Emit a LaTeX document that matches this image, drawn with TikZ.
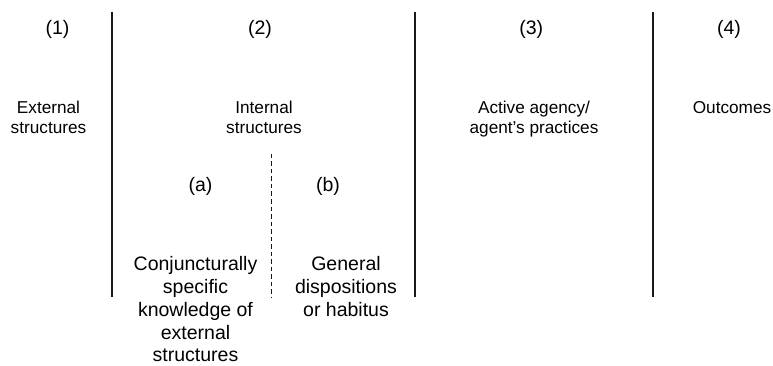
\documentclass[tikz,border=0pt]{standalone}
\usepackage{fontspec}
\setmainfont{Liberation Sans}
\usetikzlibrary{positioning,calc}
\tikzstyle{heading} = [anchor=base, inner sep=0pt, align=center,
    font=\fontsize{17.2}{19.5}\selectfont]
\tikzstyle{subheading} = [anchor=base, inner sep=0pt, align=center,
    font=\fontsize{19.5}{22.8}\selectfont]
\tikzstyle{divider} = [draw, line width=1.8pt, color=black!90]
\tikzstyle{subdivider} = [draw, line width=1pt, color=black!90, dash pattern=on 4.5pt off 3pt]

\begin{document}
\begin{tikzpicture}[x=1pt,y=-1pt]
    \useasboundingbox (0,0) rectangle (773,366);
    % Place nodes (anchor=base sits on the last line)
    \node [subheading] (numOne)   at (57.5,34.5)  {(1)};
    \node [subheading] (numTwo)   at (260,34.5)   {(2)};
    \node [subheading] (numThree) at (531.3,34.5) {(3)};
    \node [subheading] (numFour)  at (729,34.5)   {(4)};

    \node [heading] (externalStruct) at (48.5,133.3) {External\\structures};
    \node [heading] (internalStruct) at (264,133.3)  {Internal\\structures};
    \node [heading] (activeAgency)   at (534,133.3)  {Active agency/\\agent's practices};
    \node [heading] (outcomes)       at (732,113.8)  {Outcomes};

    \node [subheading] (subA) at (200.5,191) {(a)};
    \node [subheading] (subB) at (328,191)   {(b)};

    \node [subheading] (conjKnowledge)   at (195.5,361.9) {Conjuncturally\\specific\\knowledge of\\external\\structures};
    \node [subheading] (genDispositions) at (346,316.3)   {General\\dispositions\\or habitus};

    % Dividers
    \coordinate (divOneTop)   at (111.9,12);  \coordinate (divOneBot)   at (111.9,297);
    \coordinate (divTwoTop)   at (415,12);    \coordinate (divTwoBot)   at (415,297);
    \coordinate (divThreeTop) at (653.3,12);  \coordinate (divThreeBot) at (653.3,297);
    \coordinate (divSubTop)   at (271.8,154); \coordinate (divSubBot)   at (271.8,297);

    \path [divider] (divOneTop)   -- (divOneBot);
    \path [divider] (divTwoTop)   -- (divTwoBot);
    \path [divider] (divThreeTop) -- (divThreeBot);
    \path [subdivider] (divSubTop) -- (divSubBot);
\end{tikzpicture}
\end{document}
